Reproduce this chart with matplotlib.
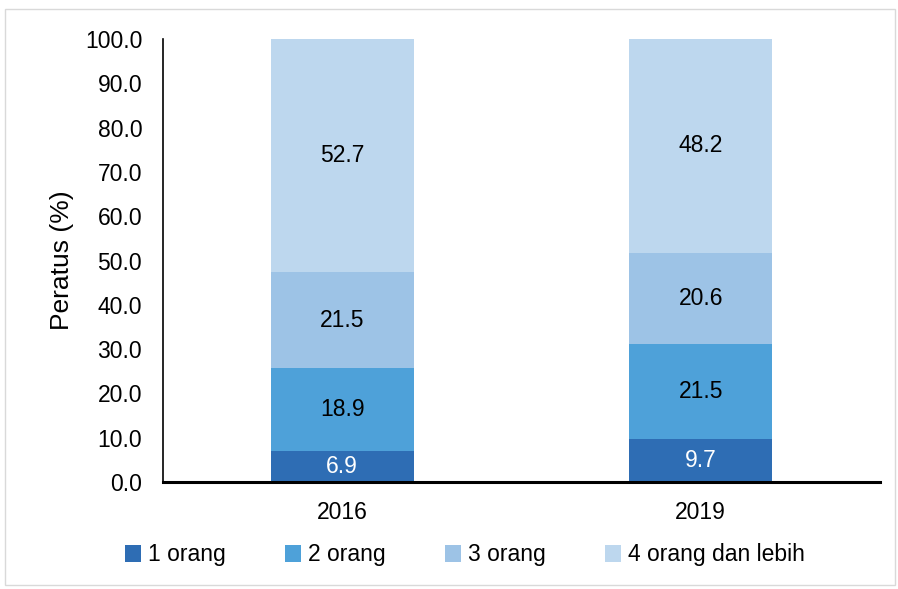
import matplotlib
matplotlib.use("Agg")
import matplotlib.pyplot as plt
from matplotlib.patches import Rectangle

plt.rcParams['font.family'] = ['Liberation Sans', 'DejaVu Sans']

years = ["2016", "2019"]
series_names = ["1 orang", "2 orang", "3 orang", "4 orang dan lebih"]
values = {
    "1 orang": [6.9, 9.7],
    "2 orang": [18.9, 21.5],
    "3 orang": [21.5, 20.6],
    "4 orang dan lebih": [52.7, 48.2],
}
colors = ["#2E6DB4", "#4EA1D9", "#9DC3E6", "#BDD7EE"]
label_colors = ["white", "black", "black", "black"]
yticks = [0, 10, 20, 30, 40, 50, 60, 70, 80, 90, 100]

FS = 16.5

fig = plt.figure(figsize=(8.98, 5.89), dpi=100)
fig.patches.append(Rectangle((5/898, 4/589), 890/898, 576/589, transform=fig.transFigure,
                             fill=False, edgecolor="#D9D9D9", linewidth=1))
ax = fig.add_axes([163/898, 1 - 482/589, 717/898, 443/589])

x = list(range(len(years)))
bottom = [0.0] * len(years)
for name, c, lc in zip(series_names, colors, label_colors):
    vals = values[name]
    ax.bar(x, vals, width=0.4, bottom=bottom, color=c, label=name, edgecolor="none")
    for xi, v, b in zip(x, vals, bottom):
        ax.text(xi, b + v / 2, f"{v:.1f}", ha="center", va="center", fontsize=FS, color=lc)
    bottom = [b + v for b, v in zip(bottom, vals)]

ax.set_xlim(-0.5, 1.5)
ax.set_ylim(0, 100)
ax.set_yticks(yticks)
ax.set_yticklabels([f"{t:.1f}" for t in yticks], fontsize=FS)
ax.set_xticks(x)
ax.set_xticklabels(years, fontsize=FS)
ax.tick_params(axis="x", length=0, pad=14)
ax.tick_params(axis="y", length=0, pad=15)
for s in ["top", "right"]:
    ax.spines[s].set_visible(False)
ax.spines["left"].set_linewidth(1.2)
ax.spines["bottom"].set_linewidth(2.2)
ax.set_ylabel("Peratus (%)", fontsize=19, labelpad=8)

ax.legend(loc="center", bbox_to_anchor=(0.421, (482 - 555) / 443), ncol=4, frameon=False,
          fontsize=FS, handlelength=0.7, handleheight=0.7, handletextpad=0.3,
          columnspacing=2.6)

fig.savefig("out.png", dpi=100)
